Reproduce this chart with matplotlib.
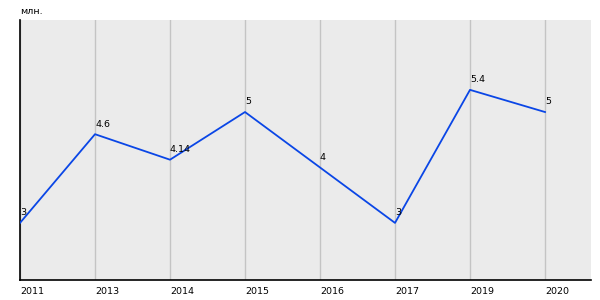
import matplotlib
matplotlib.use("Agg")
import matplotlib.pyplot as plt

years = ["2011", "2013", "2014", "2015", "2016", "2017", "2019", "2020"]
values = [3, 4.6, 4.14, 5, 4, 3, 5.4, 5]
labels = ["3", "4.6", "4.14", "5", "4", "3", "5.4", "5"]

fig = plt.figure(figsize=(6, 3), dpi=100)
ax = fig.add_axes([20/600, 20/300, 571/600, 260/300])
ax.set_facecolor("#ebebeb")

xs = list(range(len(years)))
ax.plot(xs, values, color="#0a46e6", linewidth=1.3, zorder=3)
for x, v, t in zip(xs, values, labels):
    ax.annotate(t, (x, v), xytext=(0, 4), textcoords="offset points",
                ha="left", va="bottom", fontsize=6.8, color="black")

# x scale: 75px per category, 571px wide
ax.set_xlim(0, 571/75)
ax.set_ylim(1.97, 6.66)
ax.set_xticks(xs)
ax.set_xticklabels(years, ha="left", fontsize=6.8)
ax.tick_params(axis="x", length=0, pad=5)
ax.set_yticks([])
ax.grid(axis="x", color="#c4c4c4", linewidth=1)
ax.set_axisbelow(True)

for s in ["top", "right"]:
    ax.spines[s].set_visible(False)
ax.spines["left"].set_linewidth(1.2)
ax.spines["bottom"].set_linewidth(1.2)

fig.text(20/600, 1 - 12/300, "млн.", fontsize=6.8, va="center", ha="left")

fig.savefig("out.png", dpi=100)
